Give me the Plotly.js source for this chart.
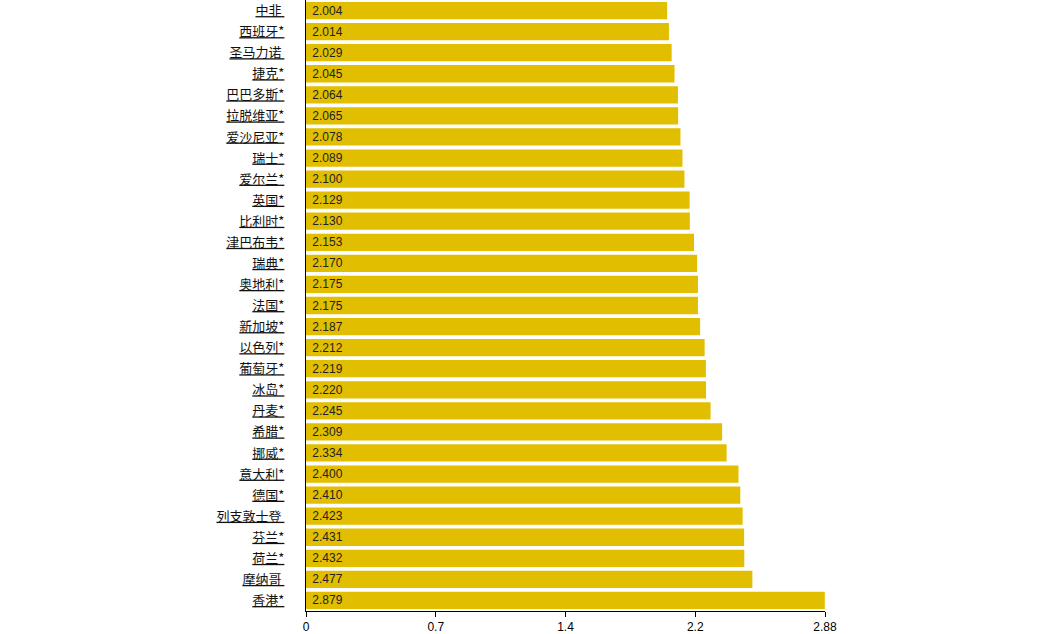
<!DOCTYPE html>
<html>
<head>
<meta charset="utf-8">
<script src="https://cdn.plot.ly/plotly-3.0.1.min.js"></script>
<style>
  html, body { margin: 0; padding: 0; background: #fff; }
  #chart { width: 1047px; height: 634px; }
</style>
</head>
<body>
<div id="chart"></div>
<script>
var countries = ["中非\u00a0", "西班牙*", "圣马力诺\u00a0", "捷克*", "巴巴多斯*", "拉脱维亚*", "爱沙尼亚*",
                 "瑞士*", "爱尔兰*", "英国*", "比利时*", "津巴布韦*", "瑞典*", "奥地利*", "法国*",
                 "新加坡*", "以色列*", "葡萄牙*", "冰岛*", "丹麦*", "希腊*", "挪威*", "意大利*",
                 "德国*", "列支敦士登\u00a0", "芬兰*", "荷兰*", "摩纳哥\u00a0", "香港*"];
var values = [2.004, 2.014, 2.029, 2.045, 2.064, 2.065, 2.078, 2.089, 2.100, 2.129, 2.130, 2.153,
              2.170, 2.175, 2.175, 2.187, 2.212, 2.219, 2.220, 2.245, 2.309, 2.334, 2.400, 2.410,
              2.423, 2.431, 2.432, 2.477, 2.879];

// ticks sit at quarters of the max, labels rounded
var tickvals = [0, 0.72, 1.44, 2.16, 2.88];
var ticktext = ["0", "0.7", "1.4", "2.2", "2.88"];

var labels = countries.map(function(c) { return "<u>" + c + "</u>"; });

var trace = {
    type: 'bar',
    orientation: 'h',
    x: values,
    y: labels,
    marker: { color: 'rgb(226,190,0)' },
    texttemplate: '\u00a0%{x:.3f}',
    textposition: 'inside',
    insidetextanchor: 'start',
    constraintext: 'none',
    textfont: { family: 'Liberation Sans, Arial, sans-serif', size: 12, color: '#222' },
    hoverinfo: 'none'
};

var layout = {
    width: 1047,
    height: 634,
    margin: { l: 306, r: 222, t: 0, b: 23 },
    paper_bgcolor: '#fff',
    plot_bgcolor: '#fff',
    bargap: 0.18,
    showlegend: false,
    font: { family: 'Liberation Sans, Arial, sans-serif', size: 12, color: '#000' },
    xaxis: {
        range: [0, 2.88],
        tickvals: tickvals,
        ticktext: ticktext,
        ticks: 'outside',
        ticklen: 5,
        tickcolor: '#000',
        showline: true,
        linecolor: '#000',
        linewidth: 1,
        showgrid: false,
        zeroline: false,
        tickfont: { size: 12, color: '#000' }
    },
    yaxis: {
        type: 'category',
        autorange: 'reversed',
        showline: true,
        linecolor: '#000',
        linewidth: 1,
        showgrid: false,
        zeroline: false,
        ticks: '',
        ticklabelstandoff: 18,
        tickfont: { family: 'Noto Sans CJK SC, sans-serif', size: 13, color: '#111' }
    }
};

Plotly.newPlot('chart', [trace], layout, { displayModeBar: false, staticPlot: true });
</script>
</body>
</html>
